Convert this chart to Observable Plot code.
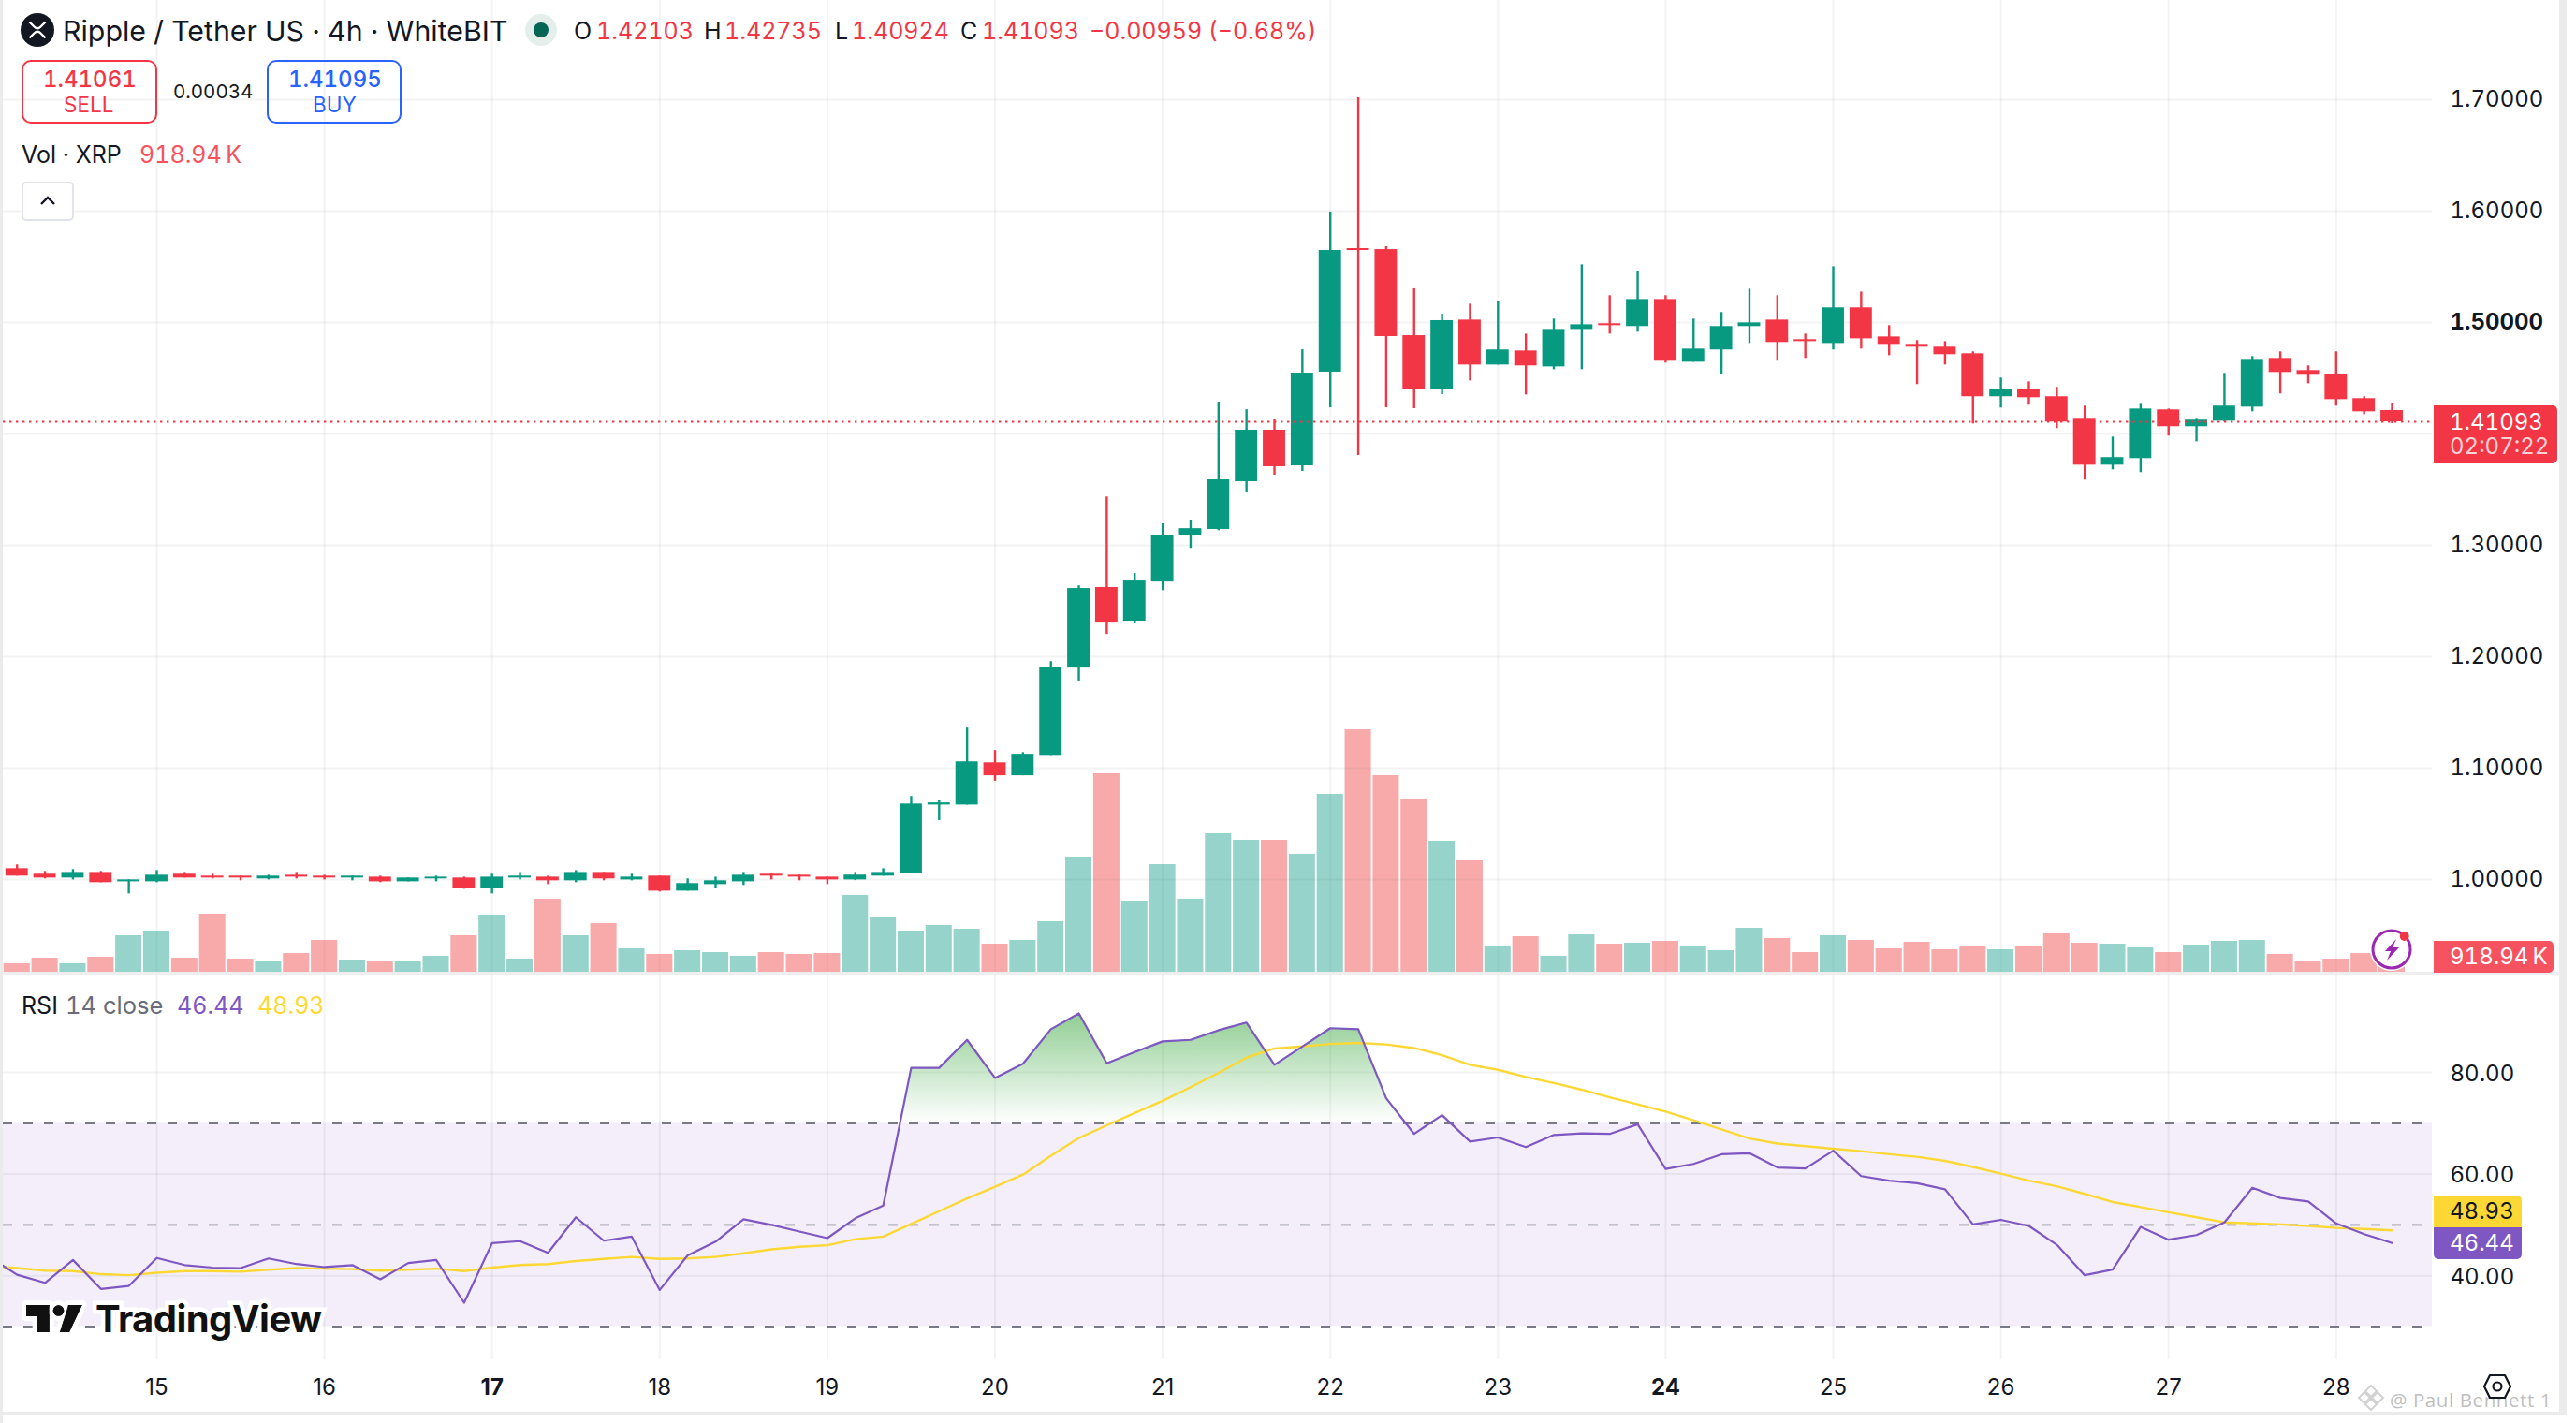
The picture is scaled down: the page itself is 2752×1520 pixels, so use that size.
<!DOCTYPE html>
<html><head><meta charset="utf-8">
<script src="https://cdn.jsdelivr.net/npm/d3@7"></script>
<script src="https://cdn.jsdelivr.net/npm/@observablehq/plot@0.6"></script>
<style>
html,body{margin:0;background:#fff}
#chart{position:relative;width:2752px;height:1520px;overflow:hidden;font-family:Inter,sans-serif;color:#131722;background:#fff}
.t{position:absolute;white-space:pre;line-height:1;transform:translateY(-50%);font-variant-numeric:tabular-nums}
.b{position:absolute}
</style></head><body><div id="chart"></div>
<script>
const opens=[1.0098,1.0048,1.0014,1.0064,.9980,.9980,1.0048,1.0031,1.0031,1.0006,1.0039,1.0031,1.0014,1.0022,.9980,1.0006,1.0014,.9922,1.0014,1.0022,.9989,1.0064,.9997,1.0031,.9896,.9955,.9980,1.0048,1.0039,1.0022,.9997,1.0031,1.0058,1.0669,1.0669,1.1048,1.0932,1.1115,1.1898,1.2622,1.2319,1.2671,1.3092,1.3143,1.3571,1.4034,1.3714,1.4555,1.5664,1.5655,1.4882,1.4395,1.5022,1.4619,1.4745,1.4602,1.4938,1.4989,1.4964,1.5207,1.4644,1.4754,1.4964,1.5022,1.4846,1.4812,1.5132,1.4871,1.4804,1.4779,1.4720,1.4334,1.4401,1.4334,1.4132,1.3720,1.3779,1.4216,1.4065,1.4115,1.4241,1.4678,1.4569,1.4535,1.4317,1.42103];
const highs=[1.0132,1.0073,1.0090,1.0073,.9997,1.0081,1.0064,1.0048,1.0031,1.0039,1.0064,1.0039,1.0031,1.0031,1.0014,1.0031,1.0022,1.0048,1.0064,1.0031,1.0081,1.0064,1.0048,1.0031,1.0006,1.0022,1.0064,1.0048,1.0039,1.0022,1.0064,1.0098,1.0746,1.0712,1.1360,1.1158,1.1140,1.1956,1.2637,1.3435,1.2747,1.3193,1.3227,1.4286,1.4218,1.4126,1.4756,1.5992,1.7017,1.5681,1.5303,1.5076,1.5165,1.5190,1.4896,1.5031,1.5518,1.5241,1.5459,1.5241,1.5031,1.5090,1.5300,1.5241,1.4896,1.5501,1.5274,1.4972,1.4838,1.4829,1.4737,1.4502,1.4468,1.4418,1.4250,1.3972,1.4266,1.4224,1.4132,1.4544,1.4695,1.4737,1.4611,1.4737,1.4334,1.42735];
const lows=[1.0031,1.0006,.9997,.9972,.9871,.9972,1.0014,1.0006,.9989,.9997,1.0006,.9997,.9989,.9972,.9980,.9980,.9913,.9871,.9997,.9955,.9972,.9989,.9989,.9888,.9896,.9922,.9947,.9997,.9989,.9955,.9991,1.0031,1.0058,1.0529,1.0669,1.0883,1.0932,1.1115,1.1782,1.2200,1.2301,1.2594,1.2973,1.3132,1.3471,1.3630,1.3664,1.4235,1.3807,1.4235,1.4227,1.4353,1.4476,1.4619,1.4350,1.4577,1.4577,1.4896,1.4913,1.4636,1.4644,1.4535,1.4812,1.4653,1.4678,1.4754,1.4762,1.4703,1.4443,1.4619,1.4090,1.4233,1.4258,1.4048,1.3586,1.3678,1.3653,1.3981,1.3930,1.4107,1.4199,1.4359,1.4451,1.4250,1.4174,1.40924];
const closes=[1.0031,1.0014,1.0064,.9972,.9997,1.0039,1.0014,1.0014,1.0014,1.0031,1.0022,1.0014,1.0031,.9980,1.0014,1.0022,.9922,1.0022,1.0031,.9989,1.0064,1.0006,1.0022,.9896,.9964,.9989,1.0039,1.0031,1.0022,.9997,1.0040,1.0064,1.0678,1.0688,1.1057,1.0932,1.1125,1.1907,1.2613,1.2310,1.2680,1.3092,1.3150,1.3588,1.4034,1.3706,1.4546,1.5647,1.5647,1.4874,1.4395,1.5017,1.4619,1.4754,1.4611,1.4938,1.4980,1.4972,1.5207,1.4653,1.4762,1.4964,1.4997,1.4821,1.4829,1.5132,1.4854,1.4804,1.4779,1.4712,1.4334,1.4401,1.4325,1.4107,1.3720,1.3788,1.4224,1.4065,1.4124,1.4250,1.4661,1.4552,1.4527,1.4308,1.4199,1.41093];
const volumes=[486,810,486,864,2106,2376,810,3348,756,648,1080,1836,702,648,594,918,2106,3294,756,4212,2106,2808,1350,1026,1242,1134,918,1134,1026,1080,4428,3132,2376,2700,2484,1620,1836,2916,6642,11448,4104,6210,4212,7992,7614,7614,6804,10260,13986,11340,9990,7560,6426,1512,2052,918,2160,1620,1674,1782,1458,1242,2538,1944,1134,2106,1836,1350,1728,1296,1512,1296,1512,2214,1674,1620,1404,1134,1566,1782,1836,1026,594,756,1080,918.94];
const rsiValues=[43.7,40.2,38.6,43.1,37.4,38,43.5,42.1,41.6,41.5,43.4,42.3,41.7,42.1,39.3,42.5,43.1,34.7,46.4,46.8,44.5,51.5,46.9,47.7,37.2,44,46.7,51.1,50,48.7,47.4,51.3,53.8,80.9,80.9,86.4,78.9,81.7,88.5,91.6,81.8,84,86.1,86.4,88.3,89.8,81.5,85.1,88.7,88.5,74.9,67.9,71.6,66.4,67.2,65.3,67.7,68,67.9,69.8,61,62,63.9,64.1,61.3,61.1,64.6,59.6,58.7,58.2,57,50.1,51,49.8,46.1,40.1,41.2,49.6,47.1,48,50.5,57.3,55.3,54.6,50.3,48.2,46.44];
const rsiMaValues=[41.9,41.5,41,40.9,40.3,40.1,40.6,40.9,40.9,40.8,41.2,41.5,41.4,41.3,41,41.2,41.4,40.9,41.6,42.1,42.3,42.9,43.3,43.7,43.3,43.4,43.7,44.4,45.2,45.7,46,47.2,47.7,50.2,52.7,55.2,57.5,59.9,63.6,67.1,69.6,72,74.4,77.1,79.9,82.9,84.7,85.1,85.6,85.8,85.5,84.8,83.4,81.5,80.5,79.1,77.9,76.6,75.1,73.7,72.3,70.6,68.8,67,66,65.5,65,64.5,63.9,63.4,62.6,61.4,60.1,58.7,57.6,56.1,54.5,53.5,52.5,51.5,50.5,50.3,50.1,49.8,49.4,49.2,48.93];
const dayLabels=[15,16,17,18,19,20,21,22,23,24,25,26,27,28];
const boldDays=[17,24];
const priceGrid=[1.0,1.1,1.2,1.3,1.4,1.5,1.6,1.7];
const priceLabels=[1.0,1.1,1.2,1.3,1.6,1.7];
const boldPrice=[1.5];
const rsiTicks=[40,60,80];
const lastPrice=1.41093;

const UP="#089981",DOWN="#F23645",VUP="#24A593",VDOWN="#F04E4E",GRID="#2a2e39",FG="#131722";
const W=2752,ML=3,MR=154,xDomain=[-0.494,86.44];
const bars=opens.map((o,i)=>({i,open:o,high:highs[i],low:lows[i],close:closes[i],vol:volumes[i],up:closes[i]>=o}));
const dayIdx=d=>5+(d-15)*6;
const rsiData=rsiValues.map((r,k)=>({i:k-1,rsi:r,ma:rsiMaValues[k]}));
const base={width:W,marginLeft:ML,marginRight:MR,marginTop:0,marginBottom:0,x:{domain:xDomain,axis:null},
  style:{background:"transparent",fontFamily:"Inter,sans-serif",color:FG,overflow:"visible"}};
const gridV=o=>Plot.ruleX(dayLabels.map(dayIdx),{stroke:GRID,strokeOpacity:.06,strokeWidth:2,...o});

const root=document.getElementById("chart");
function add(p,top){p.style.position="absolute";p.style.left="0";p.style.top=top+"px";root.appendChild(p);}

// volume pane (behind)
add(Plot.plot({...base,height:1040,y:{domain:[0,56052],range:[1038,0],axis:null},marks:[
  gridV({}),
  Plot.rect(bars,{x1:d=>d.i-.47,x2:d=>d.i+.47,y1:()=>0,y2:"vol",fill:d=>d.up?VUP:VDOWN,fillOpacity:.48})
]}),0);

// price pane
add(Plot.plot({...base,height:1040,y:{domain:[1,1.7],range:[939,106],axis:null},marks:[
  Plot.ruleY(priceGrid,{stroke:GRID,strokeOpacity:.06,strokeWidth:2}),
  Plot.ruleX(bars,{x:"i",y1:"low",y2:"high",stroke:d=>d.up?UP:DOWN,strokeWidth:2.4}),
  Plot.rect(bars,{x1:d=>d.i-.4,x2:d=>d.i+.4,y1:"open",y2:"close",fill:d=>d.up?UP:DOWN}),
  Plot.ruleY([lastPrice],{stroke:DOWN,strokeWidth:2,strokeDasharray:"2.4,4.6"}),
  Plot.axisY(priceLabels,{anchor:"right",tickSize:0,tickPadding:19,tickFormat:d=>d.toFixed(5),fontSize:24,label:null,fill:FG}),
  Plot.axisY(boldPrice,{anchor:"right",tickSize:0,tickPadding:19,tickFormat:d=>d.toFixed(5),fontSize:24,fontWeight:700,label:null,fill:FG})
]}),0);

// RSI pane
const defs=(index,{y})=>{
  const d=d3.create("svg:defs");
  const g=d.append("linearGradient").attr("id","obGrad").attr("gradientUnits","userSpaceOnUse")
    .attr("x1",0).attr("x2",0).attr("y1",y(70)).attr("y2",y(91.6));
  g.append("stop").attr("offset",0).attr("stop-color","#4CAF50").attr("stop-opacity",0);
  g.append("stop").attr("offset",1).attr("stop-color","#4CAF50").attr("stop-opacity",.62);
  return d.node();
};
add(Plot.plot({...base,height:480,y:{domain:[30,80],range:[376.5,105],axis:null},marks:[
  defs,
  Plot.rect([{}],{x1:()=>xDomain[0],x2:()=>xDomain[1],y1:()=>30,y2:()=>70,fill:"#f3eef9"}),
  Plot.ruleY(rsiTicks,{stroke:GRID,strokeOpacity:.06,strokeWidth:2}),
  gridV({insetBottom:68}),
  Plot.areaY(rsiData,{x:"i",y1:()=>70,y2:"rsi",fill:"url(#obGrad)",clip:true}),
  Plot.ruleY([70,30],{stroke:"#787B86",strokeWidth:2.2,strokeDasharray:"10,12"}),
  Plot.ruleY([50],{stroke:"#787B86",strokeOpacity:.5,strokeWidth:2.2,strokeDasharray:"10,12"}),
  Plot.line(rsiData,{x:"i",y:"ma",stroke:"#FDD835",strokeWidth:2.4,clip:true}),
  Plot.line(rsiData,{x:"i",y:"rsi",stroke:"#7E57C2",strokeWidth:2.2,clip:true}),
  Plot.axisY(rsiTicks,{anchor:"right",tickSize:0,tickPadding:19,tickFormat:d=>d.toFixed(2),fontSize:24,label:null,fill:FG,dy:1.5}),
  Plot.text(dayLabels.filter(d=>!boldDays.includes(d)),{x:dayIdx,text:String,frameAnchor:"bottom",dy:-38,lineAnchor:"middle",fontSize:24,fill:FG}),
  Plot.text(boldDays,{x:dayIdx,text:String,frameAnchor:"bottom",dy:-38,lineAnchor:"middle",fontSize:24,fontWeight:700,fill:FG})
]}),1040);

// --- chrome ---
function box(x,y,w,h,css){const d=document.createElement("div");d.className="b";d.style.cssText+=`left:${x}px;top:${y}px;width:${w}px;height:${h}px;${css||""}`;root.appendChild(d);return d;}
function txt(x,y,s,size,color,css){const d=document.createElement("div");d.className="t";d.textContent=s;d.style.cssText+=`left:${x}px;top:${y}px;font-size:${size}px;color:${color||FG};${css||""}`;root.appendChild(d);return d;}
function svg(x,y,w,h,inner,css){const d=document.createElement("div");d.className="b";d.style.cssText+=`left:${x}px;top:${y}px;width:${w}px;height:${h}px;${css||""}`;d.innerHTML=`<svg width="${w}" height="${h}" viewBox="0 0 ${w} ${h}" xmlns="http://www.w3.org/2000/svg" style="overflow:visible;display:block">${inner}</svg>`;root.appendChild(d);}

// frame strips
box(0,0,3,1520,"background:#ebebeb");
box(2734,0,8,1510,"background:#ebebeb");
box(3,1038,2731,2.5,"background:#eeeeee");
box(0,1508,2742,3,"background:#ebebeb");

// header
svg(22,14,36,36,`<circle cx="18" cy="18" r="18" fill="#131722"/><path d="M9.5 9.5 L14.5 14.5 Q18 18 21.5 14.5 L26.5 9.5 M9.5 26.5 L14.5 21.5 Q18 18 21.5 21.5 L26.5 26.5" fill="none" stroke="#fff" stroke-width="2.4"/>`);
txt(67,33,"Ripple / Tether US · 4h · WhiteBIT",30.3,FG);
svg(561,15,34,34,`<circle cx="17" cy="17" r="17" fill="#e4efeb"/><circle cx="17" cy="17" r="8" fill="#056656"/>`);
const RED="#F23645";
[["O",613,"1.42103",637],["H",752,"1.42735",774],["L",892,"1.40924",910],["C",1026,"1.41093",1049]].forEach(([a,x,v,vx])=>{txt(x,33,a,25,FG);txt(vx,33,v,25,RED);});
txt(1164,33,"−0.00959 (−0.68%)",25,RED);
box(23,64,145,68,`box-sizing:border-box;border:2.5px solid ${RED};border-radius:10px`);
txt(46,85,"1.41061",24,RED,"font-weight:500");txt(68,112,"SELL",22.5,RED);
txt(185,98,"0.00034",20.5,FG);
box(285,64,144,68,"box-sizing:border-box;border:2.5px solid #2962FF;border-radius:10px");
txt(308,85,"1.41095",24,"#2962FF","font-weight:500");txt(334,112,"BUY",22.5,"#2962FF");
txt(23,165,"Vol · XRP",25,FG);txt(149,165,"918.94\u2009K",25,"#F7525F");
box(23,194,56,42,"box-sizing:border-box;border:2px solid #e0e3eb;border-radius:5px;background:#fff");
svg(42,208,18,12,`<path d="M2 10 L9 3 L16 10" fill="none" stroke="#131722" stroke-width="2.4"/>`);

// RSI legend
txt(23,1074,"RSI",25,FG);txt(70,1074,"14 close",25.5,"#6a6d78");
txt(189,1074,"46.44",25,"#7E57C2");txt(275,1074,"48.93",25,"#FDD835");

// axis flags
box(2600,433,132,62,`background:${RED};border-radius:0 5px 5px 0`);
txt(2617,451,"1.41093",24,"#fff");txt(2617,477,"02:07:22",24,"#fbd3d7");
box(2600,1005,128,33.5,"background:#F7525F;border-radius:0 5px 5px 0");
txt(2617,1022,"918.94\u2009K",24,"#fff");
box(2600,1277,94,34,"background:#FDD835;border-radius:0 5px 0 0");
txt(2617,1294,"48.93",24,FG);
box(2600,1311,94,34,"background:#7E57C2;border-radius:0 0 5px 5px");
txt(2617,1328,"46.44",24,"#fff");

// bolt icon
svg(2530,988,52,52,`<circle cx="25" cy="26" r="21" fill="#fff" stroke="#fff" stroke-width="4"/><circle cx="25" cy="26" r="20" fill="#fff" stroke="#9C27B0" stroke-width="3"/><path d="M30 15 L18 28 L24 28 L20 38 L33 24 L26 24 Z" fill="#9C27B0"/><circle cx="38.7" cy="12" r="5" fill="#F23645"/>`);
// watermark (under the gear)
svg(2518,1478,30,30,`<g fill="none" stroke="#d2d2d2" stroke-width="2"><path d="M15 2 L21 8 L15 14 L9 8 Z M8 9 L14 15 L8 21 L2 15 Z M22 9 L28 15 L22 21 L16 15 Z M15 16 L21 22 L15 28 L9 22 Z"/></g>`);
txt(2553,1495,"@ Paul Bennett 1",20.5,"#bfbfbf","font-family:'Open Sans',sans-serif;letter-spacing:.6px");
// gear
svg(2652,1467,32,28,`<path d="M8 2 H24 L30 14 L24 26 H8 L2 14 Z" fill="none" stroke="#131722" stroke-width="2.2" stroke-linejoin="round"/><circle cx="16" cy="14" r="4.5" fill="none" stroke="#131722" stroke-width="2.2"/>`);
// logo
svg(28,1394,60,29,`<g fill="#111" stroke="#fff" stroke-width="10" stroke-linejoin="round" paint-order="stroke"><path d="M0 0H24.7V29H11.7V12H0Z"/><path d="M45 0H59.7L46 29H36Z"/><circle cx="34.5" cy="6" r="5.8"/></g><g fill="#111"><path d="M0 0H24.7V29H11.7V12H0Z"/><path d="M45 0H59.7L46 29H36Z"/><circle cx="34.5" cy="6" r="5.8"/></g>`);
txt(102,1408.5,"TradingView",40,"#111","font-weight:700;letter-spacing:-.55px;-webkit-text-stroke:9px #fff;paint-order:stroke fill");
</script></body></html>
